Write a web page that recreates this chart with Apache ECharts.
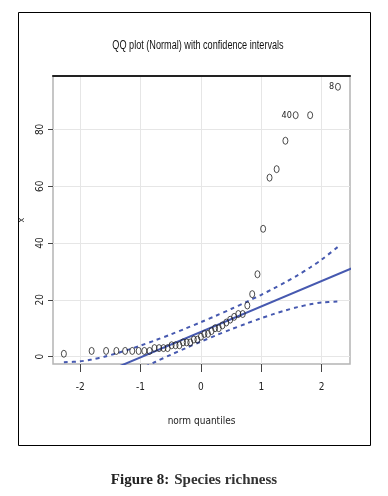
<!DOCTYPE html>
<html>
<head>
<meta charset="utf-8">
<script src="https://cdn.jsdelivr.net/npm/echarts@6/dist/echarts.min.js"></script>
<style>
  html, body { margin: 0; padding: 0; background: #fff; }
  #chart { width: 388px; height: 496px; }
</style>
</head>
<body>
<div id="chart"></div>
<script>
  // theoretical normal quantiles (x) and sorted sample values (y)
  const quantiles = [-2.27, -1.81, -1.57, -1.40, -1.255, -1.137, -1.031, -0.937, -0.85, -0.769,
    -0.693, -0.62, -0.551, -0.485, -0.42, -0.357, -0.296, -0.235, -0.176, -0.117, -0.058, 0,
    0.058, 0.117, 0.176, 0.235, 0.296, 0.357, 0.42, 0.485, 0.551, 0.62, 0.693, 0.769, 0.85,
    0.937, 1.031, 1.137, 1.255, 1.40, 1.57, 1.81, 2.27]
  const richness = [1, 2, 2, 2, 2, 2, 2, 2, 2, 3, 3, 3, 3, 4, 4, 4, 5, 5, 5, 6, 6, 7,
    8, 8, 9, 10, 10, 11, 12, 13, 14, 15, 15, 18, 22, 29, 45, 63, 66, 76, 85, 85, 95]
  const pointIds = { 40: '40', 42: '8' } // index -> id label

  // reference line ends and confidence envelope
  const refLine = [[-2.6, -14.6], [2.6, 32.0]]
  const bandQ = [-2.27, -2.0, -1.81, -1.6, -1.4, -1.2, -1.0, -0.75, -0.5, -0.25, 0,
    0.25, 0.5, 0.75, 1.0, 1.2, 1.4, 1.6, 1.81, 2.0, 2.27]
  const bandUpper = [-1.98, -1.66, -1.02, -0.02, 1.14, 2.45, 3.87, 5.79, 7.8, 9.92, 12.12,
    14.4, 16.76, 19.21, 21.77, 23.93, 26.2, 28.62, 31.38, 34.14, 38.66]
  const bandLower = [-21.3, -16.7, -13.98, -11.2, -8.8, -6.53, -4.37, -1.81, 0.645, 3.0, 5.28,
    7.48, 9.6, 11.61, 13.53, 14.95, 16.26, 17.42, 18.42, 19.06, 19.38]

  const xTicks = [-2, -1, 0, 1, 2]
  const yTicks = [0, 20, 40, 60, 80]

  const blue = '#4659b0'
  const narrow = 'DejaVu Sans Condensed, Liberation Sans Narrow, Arial, sans-serif'
  const pts = quantiles.map((q, i) => {
    const item = { value: [q, richness[i]] }
    if (pointIds[i]) {
      item.label = { show: true, formatter: pointIds[i] }
    }
    return item
  })

  const chart = echarts.init(document.getElementById('chart'))
  const option = {
    animation: false,
    title: {
      text: '{b|Figure 8:} {n|Species richness}',
      left: 'center',
      top: 466,
      textStyle: {
        rich: {
          b: { fontFamily: 'Liberation Serif, serif', fontSize: 15, fontWeight: 'bold', color: '#222' },
          n: { fontFamily: 'Liberation Serif, serif', fontSize: 15, color: '#333' }
        }
      }
    },
    graphic: [
      {
        type: 'rect',
        shape: { x: 18.5, y: 12.5, width: 352, height: 433 },
        style: { fill: 'none', stroke: '#000', lineWidth: 1 }
      },
      {
        // chart title, squeezed like the original narrow font
        type: 'text', x: 198, y: 46, scaleX: 0.76,
        style: {
          text: 'QQ plot (Normal) with confidence intervals',
          font: '12px Arial, Liberation Sans, sans-serif',
          fill: '#111', align: 'center', verticalAlign: 'middle'
        }
      }
    ],
    grid: {
      left: 53, right: 38, top: 76, bottom: 132,
      show: true, borderColor: '#b4b4b4', borderWidth: 1.5
    },
    xAxis: [
      {
        type: 'value', min: -2.45, max: 2.47,
        name: 'norm quantiles', nameLocation: 'middle', nameGap: 52,
        nameTextStyle: { fontFamily: narrow, fontSize: 10, color: '#222' },
        axisLine: { show: false, onZero: false },
        axisTick: { show: true, length: 8, customValues: xTicks, lineStyle: { color: '#444' } },
        axisLabel: { customValues: xTicks, margin: 18, fontFamily: narrow, fontSize: 10, color: '#222' },
        splitLine: { show: true, lineStyle: { color: '#e6e6e6', width: 1 } }
      },
      {
        type: 'value', position: 'top', min: -2.45, max: 2.47,
        axisLine: { show: true, onZero: false, lineStyle: { color: '#222', width: 2 } },
        axisTick: { show: false }, axisLabel: { show: false }, splitLine: { show: false }
      }
    ],
    yAxis: {
      type: 'value', min: -2.6, max: 98.8,
      name: 'x', nameLocation: 'middle', nameGap: 27, nameRotate: 90,
      nameTextStyle: { fontFamily: narrow, fontSize: 9, color: '#222' },
      axisLine: { show: false, onZero: false },
      axisTick: { show: true, length: 5, customValues: yTicks, lineStyle: { color: '#444' } },
      axisLabel: { customValues: yTicks, rotate: 90, margin: 8, fontFamily: narrow, fontSize: 10, color: '#222' },
      splitLine: { show: true, lineStyle: { color: '#e6e6e6', width: 1 } }
    },
    series: [
      {
        type: 'line', data: refLine, symbol: 'none', clip: true,
        lineStyle: { color: blue, width: 2 }, z: 2
      },
      {
        type: 'line', data: bandQ.map((q, i) => [q, bandUpper[i]]), symbol: 'none', smooth: 0.3, clip: true,
        lineStyle: { color: blue, width: 2, type: [4, 4] }, z: 2
      },
      {
        type: 'line', data: bandQ.map((q, i) => [q, bandLower[i]]), symbol: 'none', smooth: 0.3, clip: true,
        lineStyle: { color: blue, width: 2, type: [4, 4] }, z: 2
      },
      {
        type: 'scatter', data: pts, symbol: 'circle', symbolSize: [5, 7],
        itemStyle: { color: 'rgba(255,255,255,0)', borderColor: '#222', borderWidth: 0.8, opacity: 1 },
        label: { show: false, position: 'left', distance: 1, fontFamily: narrow, fontSize: 9, color: '#222' },
        z: 3
      }
    ]
  }
  option && chart.setOption(option)
</script>
</body>
</html>
